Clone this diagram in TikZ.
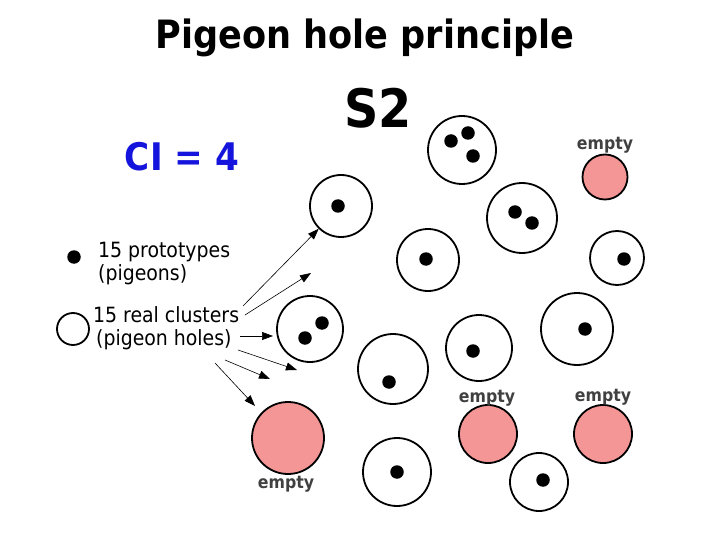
\documentclass[tikz,border=0pt]{standalone}
\usepackage{fontspec}
\setmainfont{DejaVu Sans}
\newfontfamily\tah{DejaVu Sans Condensed}
\usetikzlibrary{arrows.meta}
\definecolor{pinkfill}{RGB}{245,150,150}
\definecolor{emptygray}{RGB}{64,64,64}
\definecolor{ciblue}{RGB}{20,20,220}
\tikzset{
  hole/.style={circle, draw=black, line width=1.8pt, fill=white, inner sep=0pt},
  emptyhole/.style={circle, draw=black, line width=1.8pt, fill=pinkfill, inner sep=0pt},
  pigeon/.style={circle, fill=black, inner sep=0pt, minimum size=13.5pt},
  emptylbl/.style={font=\tah\bfseries\fontsize{17.5}{20}\selectfont, text=emptygray, inner sep=0pt},
  legendtxt/.style={font=\tah\fontsize{21}{24}\selectfont, anchor=base west, inner sep=0pt},
  pointer/.style={-{Triangle[length=11pt,width=8pt]}, line width=0.6pt},
}
\begin{document}
\begin{tikzpicture}[x=1pt,y=-1pt]
\useasboundingbox (0,0) rectangle (720,540);
% titles
\node[font=\tah\bfseries\fontsize{39}{44}\selectfont] (title) at (365,38) {Pigeon hole principle};
\node[font=\tah\bfseries\fontsize{53}{58}\selectfont] (s2) at (378,108) {S2};
\node[font=\tah\bfseries\fontsize{38}{42}\selectfont, text=ciblue] (ci) at (182,157) {CI = 4};
% legend
\node[pigeon] (lgdot) at (74,257) {};
\node[legendtxt] (lgt1) at (98,257) {15 prototypes};
\node[legendtxt] (lgt2) at (98,280) {(pigeons)};
\node[circle, draw=black, line width=1.8pt, minimum size=32pt, inner sep=0pt] (lgcirc) at (73,329) {};
\node[legendtxt] (lgt3) at (93,322) {15 real clusters};
\node[legendtxt] (lgt4) at (96,345) {(pigeon holes)};
% clusters
\node[hole, minimum size=68pt] (c1) at (462,150) {};
\node[pigeon] (p1a) at (451,141) {};
\node[pigeon] (p1b) at (468,133) {};
\node[pigeon] (p1c) at (473,156) {};
\node[hole, minimum size=62pt] (c2) at (341,206) {};
\node[pigeon] (p2) at (338,206) {};
\node[hole, minimum size=70pt] (c3) at (522,218) {};
\node[pigeon] (p3a) at (515,212) {};
\node[pigeon] (p3b) at (532,223) {};
\node[hole, minimum size=62pt] (c4) at (428,260) {};
\node[pigeon] (p4) at (426,259) {};
\node[hole, minimum size=54pt] (c5) at (617,258) {};
\node[pigeon] (p5) at (624,259) {};
\node[hole, minimum size=66pt] (c6) at (310,329) {};
\node[pigeon] (p6a) at (322,323) {};
\node[pigeon] (p6b) at (305,338) {};
\node[hole, minimum size=70pt] (c7) at (393,369) {};
\node[pigeon] (p7) at (389,382) {};
\node[hole, minimum size=66pt] (c8) at (479,348) {};
\node[pigeon] (p8) at (473,351) {};
\node[hole, minimum size=72pt] (c9) at (577,329) {};
\node[pigeon] (p9) at (585,329) {};
\node[hole, minimum size=68pt] (c10) at (397,472) {};
\node[pigeon] (p10) at (397,472) {};
\node[hole, minimum size=58pt] (c11) at (539,482) {};
\node[pigeon] (p11) at (543,480) {};
% empty clusters
\node[emptyhole, minimum size=45pt] (e1) at (605,177) {};
\node[emptylbl] (e1l) at (605,145) {empty};
\node[emptyhole, minimum size=72pt] (e2) at (288,438) {};
\node[emptylbl] (e2l) at (286,484) {empty};
\node[emptyhole, minimum size=58pt] (e3) at (488,434) {};
\node[emptylbl] (e3l) at (487,398) {empty};
\node[emptyhole, minimum size=58pt] (e4) at (603,434) {};
\node[emptylbl] (e4l) at (603,397) {empty};
% arrows
\coordinate (a1s) at (243,306);
\coordinate (a2s) at (245,315);
\coordinate (a2e) at (311,273);
\coordinate (a3s) at (240,336);
\coordinate (a3e) at (273,336);
\coordinate (a4s) at (238,350);
\coordinate (a4e) at (297,370);
\coordinate (a5s) at (225,360);
\coordinate (a5e) at (270,379);
\coordinate (a6s) at (215,363);
\coordinate (a6e) at (255,406);
\draw[pointer] (a1s) -- (c2);
\draw[pointer] (a2s) -- (a2e);
\draw[pointer] (a3s) -- (a3e);
\draw[pointer] (a4s) -- (a4e);
\draw[pointer] (a5s) -- (a5e);
\draw[pointer] (a6s) -- (a6e);
\end{tikzpicture}
\end{document}
